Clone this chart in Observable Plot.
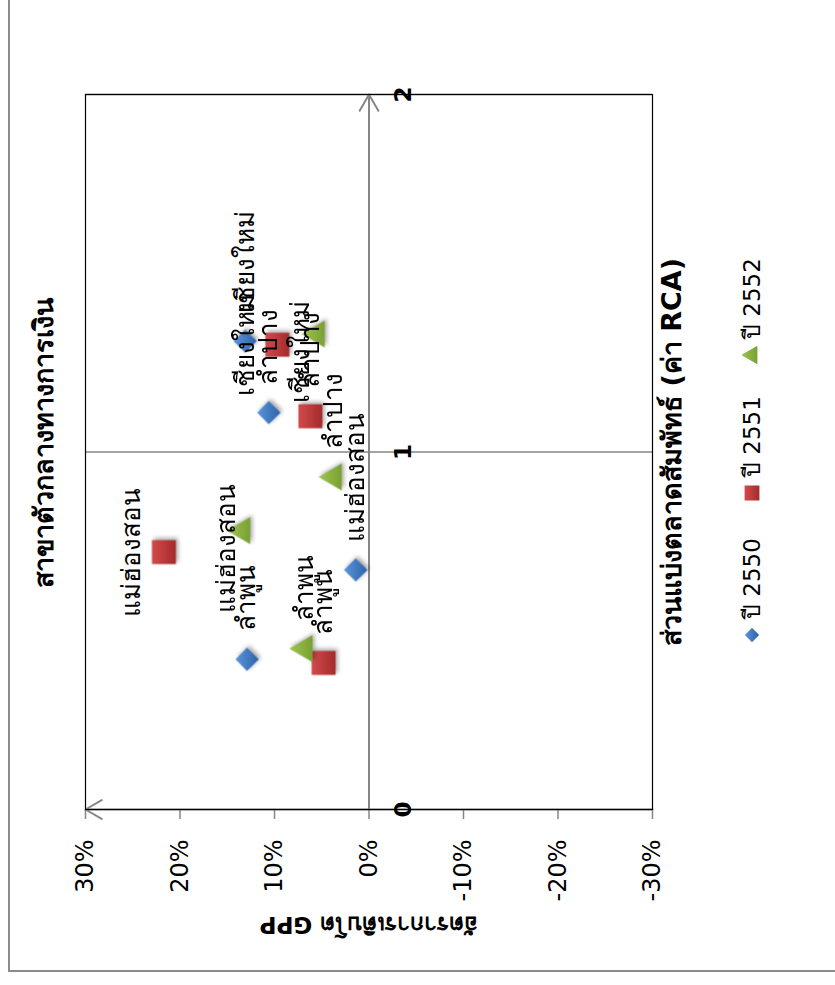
<!DOCTYPE html>
<html lang="th">
<head>
<meta charset="utf-8">
<script src="https://cdn.jsdelivr.net/npm/d3@7"></script>
<script src="https://cdn.jsdelivr.net/npm/@observablehq/plot@0.6"></script>
<style>
  html, body { margin: 0; padding: 0; background: #fff; }
  body { width: 835px; height: 985px; position: relative; overflow: hidden; }
  /* The chart is laid out landscape (985 x 835) and turned a quarter turn counter-clockwise. */
  #chart {
    position: absolute; left: 0; top: 0;
    width: 985px; height: 835px;
    transform-origin: 0 0;
    transform: translate(0, 985px) rotate(-90deg);
    font-family: "DejaVu Sans", "Noto Sans", sans-serif;
    color: #000;
  }
  #frame {
    position: absolute; left: 13px; top: 8px; width: 1000px; height: 900px;
    border-left: 2px solid #8c8c8c; border-top: 2px solid #8c8c8c;
  }
  #title {
    position: absolute; left: 185px; width: 715px; top: 26px;
    text-align: center; font-weight: bold; font-size: 27px; line-height: 36px;
  }
  #plot { position: absolute; left: 0; top: 70px; }
  #legend { position: absolute; left: 0; top: 736px; width: 985px; height: 32px; font-size: 23px; }
  #legend .item { position: absolute; top: 0; height: 32px; display: flex; align-items: center; gap: 6px; white-space: nowrap; }
</style>
</head>
<body>
<div id="chart">
  <div id="frame"></div>
  <div id="title"></div>
  <div id="plot"></div>
  <div id="legend"></div>
</div>
<script>
// Provinces, in the same order as the values of every year below
const provinces = ["เชียงใหม่", "ลำปาง", "แม่ฮ่องสอน", "ลำพูน"];
const years = ["ปี 2550", "ปี 2551", "ปี 2552"];

// Relative market share (RCA) per province
const rca2550 = [1.31, 1.11, 0.67, 0.42];
const rca2551 = [1.30, 1.10, 0.72, 0.41];
const rca2552 = [1.33, 0.93, 0.78, 0.45];

// GPP growth rate (%) per province
const gpp2550 = [13.1, 10.6, 1.4, 12.9];
const gpp2551 = [9.7, 6.2, 21.7, 4.8];
const gpp2552 = [5.5, 3.7, 13.4, 6.8];

const rcaTicks = [0, 1, 2];
const gppTicks = [-30, -20, -10, 0, 10, 20, 30];

const chartTitle = "สาขาตัวกลางทางการเงิน";
const xTitle = "ส่วนแบ่งตลาดสัมพัทธ์ (ค่า RCA)";
const yTitle = "อัตราการเติบโต GPP";

const FONT = '"DejaVu Sans", "Noto Sans", sans-serif';
const GRAY = "#868686";

// Marker look per year, plus where a label goes when it sits above its marker
const series = [
  {year: years[0], rca: rca2550, gpp: gpp2550, symbol: "diamond2", r: 10.5, color: "#3b78c6", top: "#5b95dc", bottom: "#2c62a8", aboveDx: 0, aboveDy: -30},
  {year: years[1], rca: rca2551, gpp: gpp2551, symbol: "square", r: 13.5, color: "#c0373a", top: "#d24a4a", bottom: "#a52a2c", aboveDx: 0, aboveDy: -32},
  {year: years[2], rca: rca2552, gpp: gpp2552, symbol: "triangle", r: 10, color: "#8cb43f", top: "#9fc650", bottom: "#78a032", aboveDx: -18, aboveDy: -16}
];

const points = series.flatMap(s => provinces.map((province, i) => ({
  year: s.year, province, rca: s.rca[i], gpp: s.gpp[i]
})));

// Labels that sit above their marker instead of to its right
const labelAbove = new Set([
  "ปี 2551|เชียงใหม่", "ปี 2551|แม่ฮ่องสอน", "ปี 2552|เชียงใหม่", "ปี 2552|แม่ฮ่องสอน"
]);
const isAbove = d => labelAbove.has(d.year + "|" + d.province);

document.getElementById("title").textContent = chartTitle;

const plot = Plot.plot({
  width: 985,
  height: 640,
  marginLeft: 175,
  marginRight: 95,
  marginTop: 15,
  marginBottom: 58,
  x: {domain: [0, 2], axis: null},
  y: {domain: [-30, 30], axis: null},
  style: {fontFamily: FONT, fontSize: "23px", color: "#000", background: "transparent", overflow: "visible"},
  marks: [
    // guide lines at RCA = 1 and RCA = 2
    Plot.ruleX([1, 2], {stroke: GRAY, strokeWidth: 1.5}),
    // axes crossing at (0, 0%), with open arrow heads
    Plot.arrow([0], {x1: 0, y1: 0, x2: 2, y2: 0, stroke: GRAY, strokeWidth: 2, headLength: 14, headAngle: 60}),
    Plot.arrow([0], {x1: 0, y1: -30, x2: 0, y2: 30, stroke: GRAY, strokeWidth: 2, headLength: 14, headAngle: 60}),
    // percent ticks on the left
    Plot.ruleY(gppTicks, {y: d => d, x1: 0, x2: 0, insetRight: 9, stroke: GRAY, strokeWidth: 1.5}),
    Plot.text(gppTicks, {y: d => d, frameAnchor: "left", dx: -30, textAnchor: "end", text: d => d + "%", fontSize: 24}),
    // RCA tick labels beside the 0% line
    Plot.text(rcaTicks, {x: d => d, y: 0, dy: 35, text: d => String(d), fontSize: 23, fontWeight: "bold"}),
    Plot.frame({stroke: "#000", strokeWidth: 1.2}),
    ...series.map(s => Plot.dot(points.filter(d => d.year === s.year), {
      x: "rca", y: "gpp", symbol: s.symbol, r: s.r, fill: s.color, stroke: "none"
    })),
    Plot.text(points.filter(d => !isAbove(d)), {
      x: "rca", y: "gpp", text: "province", textAnchor: "start", dx: 28, fontSize: 26
    }),
    ...series.map(s => Plot.text(points.filter(d => d.year === s.year && isAbove(d)), {
      x: "rca", y: "gpp", text: "province", textAnchor: "middle", dx: s.aboveDx, dy: s.aboveDy, fontSize: 26
    })),
    // axis titles
    Plot.text([xTitle], {frameAnchor: "bottom", dy: 28, text: d => d, textAnchor: "middle", fontWeight: "bold", fontSize: 27}),
    Plot.text([yTitle], {frameAnchor: "left", dx: -115, rotate: -90, text: d => d, textAnchor: "middle", fontWeight: "bold", fontSize: 23})
  ]
});

// Excel-style shading on the markers: a vertical gradient and a soft shadow
const svg = d3.select(plot);
const defs = svg.insert("defs", ":first-child");
series.forEach((s, i) => {
  const g = defs.append("linearGradient").attr("id", "shade" + i)
    .attr("x1", 0).attr("y1", 0).attr("x2", 0).attr("y2", 1);
  g.append("stop").attr("offset", "0%").attr("stop-color", s.top);
  g.append("stop").attr("offset", "100%").attr("stop-color", s.bottom);
});
svg.selectAll('g[aria-label="dot"]').each(function(_, i) {
  d3.select(this).attr("fill", `url(#shade${i})`)
    .selectAll("path").attr("fill", null);
  d3.select(this).style("filter", "drop-shadow(2px 2px 2px rgba(0,0,0,0.35))");
});

document.getElementById("plot").appendChild(plot);

// legend row, one entry per year
const legend = d3.select("#legend");
const legendLeft = [340, 482, 620];
series.forEach((s, i) => {
  const item = legend.append("div").attr("class", "item").style("left", legendLeft[i] + "px");
  const sw = item.append("svg").attr("width", 20).attr("height", 20).attr("viewBox", "-10 -10 20 20");
  const g = sw.append("defs").append("linearGradient").attr("id", "lg" + i)
    .attr("x1", 0).attr("y1", 0).attr("x2", 0).attr("y2", 1);
  g.append("stop").attr("offset", "0%").attr("stop-color", s.top);
  g.append("stop").attr("offset", "100%").attr("stop-color", s.bottom);
  const sym = {diamond2: d3.symbolDiamond2, square: d3.symbolSquare, triangle: d3.symbolTriangle}[s.symbol];
  const size = {diamond2: 130, square: 220, triangle: 150}[s.symbol];
  sw.append("path").attr("d", d3.symbol(sym, size)()).attr("fill", `url(#lg${i})`);
  item.append("span").text(s.year);
});
</script>
</body>
</html>
